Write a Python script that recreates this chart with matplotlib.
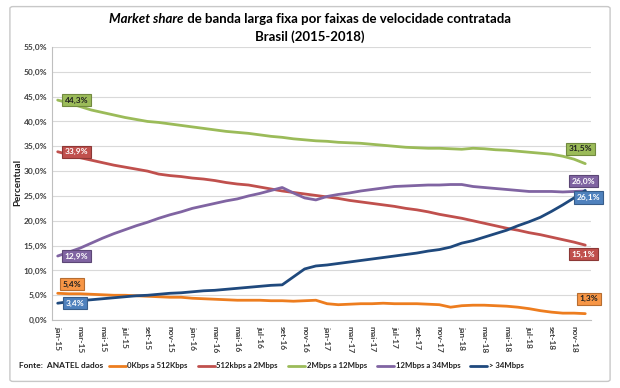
import numpy as np
import matplotlib.pyplot as plt
from matplotlib.patches import FancyBboxPatch

plt.rcParams['font.family'] = ['Lato', 'DejaVu Sans']

# monthly series, jan-15 .. dez-18 (%)
months = [m + '-' + y for y in ['15', '16', '17', '18']
          for m in ['jan', 'fev', 'mar', 'abr', 'mai', 'jun',
                    'jul', 'ago', 'set', 'out', 'nov', 'dez']]

s_0_512k = [5.4, 5.3, 5.3, 5.2, 5.1, 5.0, 5.0, 4.9, 4.8, 4.7, 4.6, 4.6,
            4.4, 4.3, 4.2, 4.1, 4.0, 4.0, 4.0, 3.9, 3.9, 3.8, 3.9, 4.0,
            3.3, 3.1, 3.2, 3.3, 3.3, 3.4, 3.3, 3.3, 3.3, 3.2, 3.1, 2.6,
            2.9, 3.0, 3.0, 2.9, 2.8, 2.6, 2.3, 1.9, 1.6, 1.4, 1.4, 1.3]
s_512k_2m = [33.9, 33.3, 32.7, 32.2, 31.7, 31.2, 30.8, 30.4, 30.0, 29.4, 29.1, 28.9,
             28.6, 28.4, 28.1, 27.7, 27.4, 27.2, 26.8, 26.4, 26.0, 25.7, 25.4, 25.1,
             24.8, 24.5, 24.1, 23.8, 23.5, 23.2, 22.9, 22.5, 22.2, 21.8, 21.3, 20.9,
             20.5, 20.0, 19.5, 19.0, 18.5, 18.1, 17.6, 17.2, 16.7, 16.2, 15.7, 15.1]
s_2m_12m = [44.3, 43.7, 43.0, 42.3, 41.8, 41.3, 40.8, 40.4, 40.0, 39.8, 39.5, 39.2,
            38.9, 38.6, 38.3, 38.0, 37.8, 37.6, 37.3, 37.0, 36.8, 36.5, 36.3, 36.1,
            36.0, 35.8, 35.7, 35.6, 35.4, 35.2, 35.0, 34.8, 34.7, 34.6, 34.6, 34.5,
            34.4, 34.6, 34.5, 34.3, 34.2, 34.0, 33.8, 33.6, 33.4, 33.0, 32.4, 31.5]
s_12m_34m = [12.9, 13.7, 14.5, 15.5, 16.5, 17.4, 18.2, 19.0, 19.7, 20.5, 21.2, 21.8,
             22.5, 23.0, 23.5, 24.0, 24.4, 25.0, 25.5, 26.1, 26.7, 25.6, 24.6, 24.2,
             24.9, 25.3, 25.6, 26.0, 26.3, 26.6, 26.9, 27.0, 27.1, 27.2, 27.2, 27.3,
             27.3, 26.9, 26.7, 26.5, 26.3, 26.1, 25.9, 25.9, 25.9, 25.8, 25.9, 26.0]
s_34m = [3.4, 3.7, 3.9, 4.1, 4.3, 4.5, 4.7, 4.9, 5.0, 5.2, 5.4, 5.5,
         5.7, 5.9, 6.0, 6.2, 6.4, 6.6, 6.8, 7.0, 7.1, 8.7, 10.3, 10.9,
         11.1, 11.4, 11.7, 12.0, 12.3, 12.6, 12.9, 13.2, 13.5, 13.9, 14.2, 14.7,
         15.5, 16.0, 16.7, 17.4, 18.1, 19.0, 19.8, 20.7, 21.9, 23.2, 24.6, 26.1]

labels = ['0Kbps a 512Kbps', '512kbps a 2Mbps', '2Mbps a 12Mbps',
          '12Mbps a 34Mbps', '> 34Mbps']
series = [s_0_512k, s_512k_2m, s_2m_12m, s_12m_34m, s_34m]
colors = ['#ED7D1F', '#C0504D', '#9BBB59', '#8064A2', '#1F497D']
box_fc = ['#F79646', '#C0504D', '#9BBB59', '#8064A2', '#4F81BD']
box_ec = ['#B66D31', '#8C3836', '#71893F', '#5C4776', '#385D8A']
txt_c = ['#202020', 'white', '#202020', 'white', 'white']

# label offsets in pixels (start, end)
start_off = [(14, 9), (19, 0), (19, 0), (19, 0), (17, 0)]
end_off = [(4, 15), (-2, -9), (-5, 15), (-2, 10), (3, -7)]

fig = plt.figure(figsize=(6.2, 3.88), dpi=100)
ax = fig.add_axes([0.084, 0.175, 0.869, 0.704])

x = np.arange(len(months))
handles = []
for s, lab, c in zip(series, labels, colors):
    h, = ax.plot(x, s, color=c, lw=2.0, label=lab, solid_capstyle='round')
    handles.append(h)

def pct(v):
    return ('%.1f' % v).replace('.', ',') + '%'

for k, s in enumerate(series):
    for idx, off in [(0, start_off[k]), (len(s) - 1, end_off[k])]:
        ax.annotate(pct(s[idx]), (x[idx], s[idx]), xytext=off,
                    textcoords='offset pixels', ha='center', va='center',
                    fontsize=6, fontweight='bold', color=txt_c[k], zorder=5,
                    bbox=dict(boxstyle='square,pad=0.3', fc=box_fc[k],
                              ec=box_ec[k], lw=0.8))

ax.set_xlim(-0.5, len(months) - 0.5)
ax.set_ylim(0, 55)
ax.set_yticks(np.arange(0, 56, 5))
ax.set_yticklabels([pct(v) for v in np.arange(0, 56, 5)])
ax.set_xticks(x[::2])
ax.set_xticklabels(months[::2], rotation=-90)
ax.tick_params(axis='both', labelsize=6, length=0, colors='#404040')
for t in ax.get_xticklabels() + ax.get_yticklabels():
    t.set_fontweight('bold')
ax.tick_params(axis='x', pad=4)
ax.grid(axis='y', color='#D9D9D9', lw=0.8)
ax.set_axisbelow(True)
for sp in ['top', 'right']:
    ax.spines[sp].set_visible(False)
for sp in ['left', 'bottom']:
    ax.spines[sp].set_color('#BFBFBF')
    ax.spines[sp].set_linewidth(0.8)

fig.text(0.029, 0.53, 'Percentual', rotation=90, ha='center', va='center',
         fontsize=7, fontweight='bold', color='#202020')

# title with italic part
fig.canvas.draw()
r = fig.canvas.get_renderer()
t1 = fig.text(0, 0.95, 'Market share', fontsize=9.5, fontweight='bold',
              fontstyle='italic', va='center')
t2 = fig.text(0, 0.95, ' de banda larga fixa por faixas de velocidade contratada',
              fontsize=9.5, fontweight='bold', va='center')
w1 = t1.get_window_extent(r).width
w2 = t2.get_window_extent(r).width
x0 = (620 - w1 - w2) / 2 / 620
t1.set_x(x0)
t2.set_x(x0 + w1 / 620)
fig.text(0.5, 0.905, 'Brasil (2015-2018)', fontsize=9.5, fontweight='bold',
         ha='center', va='center')

fig.text(0.03, 0.057, 'Fonte:  ANATEL dados', fontsize=6, fontweight='bold',
         va='center', color='#202020')
leg = fig.legend(handles=handles, labels=labels, loc='center',
                 bbox_to_anchor=(0.51, 0.057), ncol=5, frameon=False,
                 prop={'size': 5.6, 'weight': 'bold'}, handlelength=2.2,
                 handletextpad=0.2, columnspacing=1.3)
for t in leg.get_texts():
    t.set_color('#202020')

border = FancyBboxPatch((0.016, 0.017), 0.968, 0.966, transform=fig.transFigure,
                        boxstyle='round,pad=0,rounding_size=0.005',
                        fc='none', ec='#C8C8C8', lw=1.0)
fig.patches.append(border)

fig.savefig('out.png', dpi=100)
